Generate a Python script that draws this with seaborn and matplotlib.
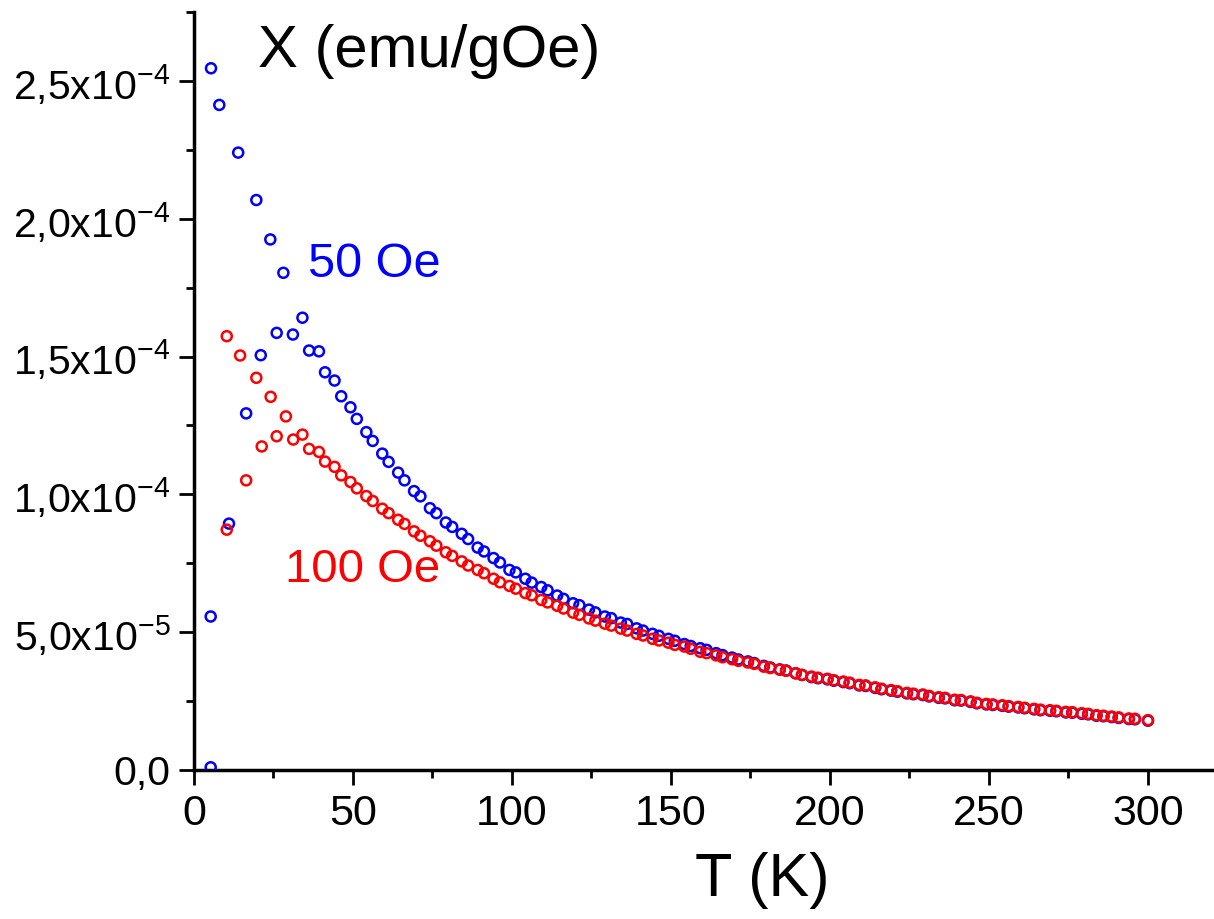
import matplotlib
matplotlib.use("Agg")
import matplotlib.pyplot as plt
import seaborn as sns
import pandas as pd

# ---------------- data ----------------
# 50 Oe series (blue): low-temperature points (ZFC and FC branches)
T_50_low = [5.25, 5.25, 11.0, 16.4, 21.0, 26.0, 31.1, 34.1,
            5.35, 7.96, 13.9, 19.6, 24.0, 28.1]
chi_50_low = [0.010, 0.557, 0.894, 1.294, 1.505, 1.586, 1.580, 1.641,
              2.546, 2.413, 2.240, 2.068, 1.925, 1.804]

# 100 Oe series (red): low-temperature points
T_100_low = [10.3, 16.4, 21.3, 26.0, 31.2, 34.1,
             10.3, 14.5, 19.6, 24.1, 28.9]
chi_100_low = [0.872, 1.051, 1.174, 1.211, 1.199, 1.217,
               1.574, 1.504, 1.423, 1.354, 1.283]

# common temperatures of the high-temperature part (K)
T_tail = [36.2, 39.3, 41.2, 44.2, 46.3, 49.2, 51.2, 54.2, 56.2, 59.2,
          61.2, 64.2, 66.2, 69.2, 71.2, 74.2, 76.2, 79.2, 81.2, 84.2,
          86.2, 89.2, 91.2, 94.2, 96.2, 99.2, 101.2, 104.2, 106.2, 109.2,
          111.2, 114.2, 116.2, 119.2, 121.2, 124.2, 126.2, 129.2, 131.2, 134.2,
          136.2, 139.2, 141.2, 144.2, 146.2, 149.2, 151.2, 154.2, 156.2, 159.2,
          161.2, 164.2, 166.2, 169.2, 171.2, 174.2, 176.2, 179.2, 181.2, 184.2,
          186.2, 189.2, 191.2, 194.2, 196.2, 199.2, 201.2, 204.2, 206.2, 209.2,
          211.2, 214.2, 216.2, 219.2, 221.2, 224.2, 226.2, 229.2, 231.2, 234.2,
          236.2, 239.2, 241.2, 244.2, 246.2, 249.2, 251.2, 254.2, 256.2, 259.2,
          261.2, 264.2, 266.2, 269.2, 271.2, 274.2, 276.2, 279.2, 281.2, 283.8,
          286.0, 288.6, 290.8, 294.0, 295.9, 300.0]

chi_50_tail = [1.522, 1.519, 1.443, 1.413, 1.356, 1.316, 1.274, 1.226, 1.194, 1.148,
               1.118, 1.079, 1.051, 1.012, 0.993, 0.950, 0.932, 0.898, 0.882, 0.857,
               0.838, 0.807, 0.793, 0.769, 0.753, 0.726, 0.717, 0.694, 0.680, 0.664,
               0.652, 0.633, 0.621, 0.605, 0.598, 0.582, 0.572, 0.557, 0.551, 0.535,
               0.530, 0.514, 0.506, 0.494, 0.487, 0.476, 0.469, 0.457, 0.450, 0.442,
               0.436, 0.424, 0.417, 0.408, 0.401, 0.394, 0.388, 0.378, 0.372, 0.365,
               0.361, 0.351, 0.345, 0.337, 0.333, 0.329, 0.324, 0.319, 0.315, 0.307,
               0.305, 0.298, 0.293, 0.288, 0.284, 0.278, 0.275, 0.272, 0.267, 0.262,
               0.260, 0.253, 0.252, 0.247, 0.242, 0.238, 0.236, 0.233, 0.230, 0.227,
               0.224, 0.220, 0.217, 0.215, 0.213, 0.209, 0.208, 0.204, 0.202, 0.197,
               0.195, 0.192, 0.189, 0.185, 0.184, 0.179]

chi_100_tail = [1.165, 1.154, 1.119, 1.100, 1.069, 1.045, 1.022, 0.994, 0.976, 0.948,
                0.932, 0.908, 0.893, 0.866, 0.850, 0.830, 0.814, 0.790, 0.777, 0.757,
                0.742, 0.726, 0.714, 0.694, 0.681, 0.668, 0.658, 0.642, 0.634, 0.617,
                0.608, 0.596, 0.586, 0.571, 0.563, 0.550, 0.542, 0.531, 0.524, 0.513,
                0.506, 0.494, 0.488, 0.476, 0.470, 0.462, 0.454, 0.448, 0.440, 0.429,
                0.424, 0.416, 0.409, 0.402, 0.396, 0.390, 0.385, 0.375, 0.370, 0.364,
                0.360, 0.351, 0.345, 0.339, 0.335, 0.331, 0.326, 0.321, 0.317, 0.309,
                0.307, 0.300, 0.295, 0.290, 0.286, 0.280, 0.277, 0.274, 0.269, 0.264,
                0.262, 0.255, 0.254, 0.249, 0.244, 0.240, 0.238, 0.235, 0.232, 0.229,
                0.226, 0.222, 0.219, 0.217, 0.215, 0.211, 0.210, 0.206, 0.204, 0.199,
                0.197, 0.194, 0.191, 0.187, 0.186, 0.181]

SCALE = 1e-4  # values above are in units of 1e-4 emu/gOe

x_ticks = [0, 50, 100, 150, 200, 250, 300]
y_ticks = [0.0, 0.5e-4, 1.0e-4, 1.5e-4, 2.0e-4, 2.5e-4]
y_tick_labels = ["0,0",
                 r"5,0x10$^{\mathregular{-5}}$",
                 r"1,0x10$^{\mathregular{-4}}$",
                 r"1,5x10$^{\mathregular{-4}}$",
                 r"2,0x10$^{\mathregular{-4}}$",
                 r"2,5x10$^{\mathregular{-4}}$"]

series_names = ["50 Oe", "100 Oe"]
series_colors = {"50 Oe": "#0000ff", "100 Oe": "#ff0000"}

# ---------------- build tidy frame ----------------
rows = []
for t, c in zip(T_50_low + T_tail, chi_50_low + chi_50_tail):
    rows.append({"T": t, "chi": c * SCALE, "field": "50 Oe"})
for t, c in zip(T_100_low + T_tail, chi_100_low + chi_100_tail):
    rows.append({"T": t, "chi": c * SCALE, "field": "100 Oe"})
df = pd.DataFrame(rows)

# ---------------- plot ----------------
sns.set_style("ticks")
plt.rcParams["font.family"] = ["Liberation Sans", "DejaVu Sans"]
plt.rcParams["mathtext.fontset"] = "custom"
plt.rcParams["mathtext.rm"] = "Liberation Sans"
plt.rcParams["text.color"] = "black"
plt.rcParams["axes.labelcolor"] = "black"
plt.rcParams["xtick.color"] = "black"
plt.rcParams["ytick.color"] = "black"

fig = plt.figure(figsize=(12.14, 9.19), dpi=100)
ax = fig.add_axes([0.1598, 0.1621, 0.8382, 0.8248])

for name in series_names:
    sub = df[df["field"] == name]
    sns.scatterplot(data=sub, x="T", y="chi", ax=ax, s=52, marker="o",
                    facecolor="none", edgecolor=series_colors[name],
                    linewidth=1.8, legend=False, zorder=3)

ax.set_xlim(0, 320)
ax.set_ylim(0, 2.75e-4)
ax.set_xticks(x_ticks)
ax.set_xticklabels([str(v) for v in x_ticks])
ax.set_xticks([25, 75, 125, 175, 225, 275], minor=True)
ax.set_yticks(y_ticks)
ax.set_yticklabels(y_tick_labels)
ax.set_yticks([0.25e-4, 0.75e-4, 1.25e-4, 1.75e-4, 2.25e-4, 2.75e-4], minor=True)

ax.tick_params(axis="both", which="major", direction="out", length=11, width=2,
               color="black", labelcolor="black", pad=6)
ax.tick_params(axis="x", which="major", labelsize=31)
ax.tick_params(axis="y", which="major", labelsize=29.5)
ax.tick_params(axis="both", which="minor", direction="out", length=6, width=2,
               color="black")

for side in ["top", "right"]:
    ax.spines[side].set_visible(False)
for side in ["left", "bottom"]:
    ax.spines[side].set_linewidth(2.5)
    ax.spines[side].set_color("black")

ax.set_xlabel("T (K)", fontsize=44, color="black")
ax.xaxis.set_label_coords(0.558, -0.108)
ax.set_ylabel("")

ax.text(20.1, 2.55e-4, "X (emu/gOe)", fontsize=43, color="black",
        ha="left", va="baseline")
ax.text(35.9, 1.79e-4, "50 Oe", fontsize=35, color=series_colors["50 Oe"],
        ha="left", va="baseline")
ax.text(28.6, 0.683e-4, "100 Oe", fontsize=34, color=series_colors["100 Oe"],
        ha="left", va="baseline")

fig.savefig("out.png", dpi=100, facecolor="white")
